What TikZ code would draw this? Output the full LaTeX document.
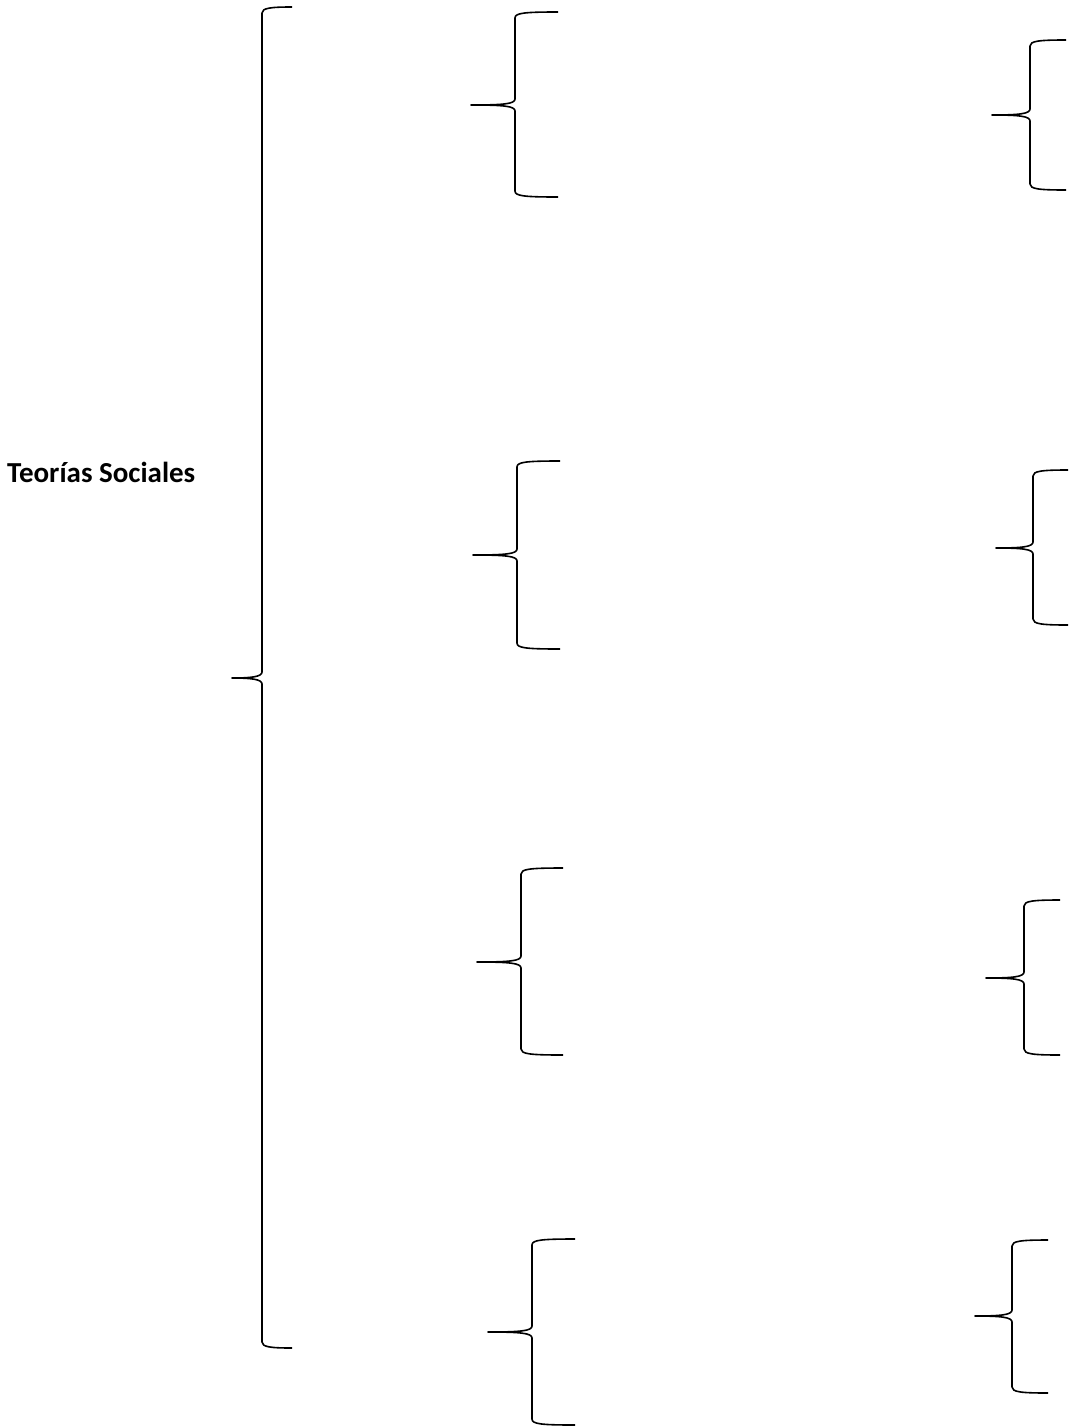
\documentclass[tikz,border=0pt]{standalone}
\usepackage{fontspec}
\setmainfont{Carlito}
\usetikzlibrary{positioning}

% llave: {x vertical}{x punta}{x extremos}{y arriba}{y punta}{y abajo}
\newcommand{\llave}[6]{%
  \draw[trazo] (#3,#4) .. controls (#1+9,#4) and (#1,#4+1) .. (#1,#4+6)
    -- (#1,#5-6) .. controls (#1,#5-1) and (#1-12,#5) .. (#2,#5)
    .. controls (#1-12,#5) and (#1,#5+1) .. (#1,#5+6)
    -- (#1,#6-6) .. controls (#1,#6-1) and (#1+9,#6) .. (#3,#6);}

\begin{document}
\begin{tikzpicture}[
  x=1pt, y=-1pt,
  trazo/.style={draw=black, line width=1.6pt, line join=round},
  titulo/.style={font=\bfseries\fontsize{29}{34}\selectfont, inner sep=0pt}
]
  \useasboundingbox (0,0) rectangle (1070,1427);

  \node[titulo, anchor=base west] (teorias) at (7,482) {Teorías Sociales};

  % llave principal
  \llave{262}{232}{292}{7}{678}{1348}

  % primera columna
  \llave{515}{471}{558}{12}{105}{197}
  \llave{517}{473}{560}{461}{555}{649}
  \llave{521}{477}{563}{868}{962}{1055}
  \llave{532}{488}{575}{1239}{1332}{1425}

  % segunda columna
  \llave{1030}{992}{1066}{40}{115}{190}
  \llave{1033}{996}{1068}{470}{548}{625}
  \llave{1024}{986}{1060}{900}{978}{1055}
  \llave{1012}{975}{1048}{1240}{1316}{1393}
\end{tikzpicture}
\end{document}
